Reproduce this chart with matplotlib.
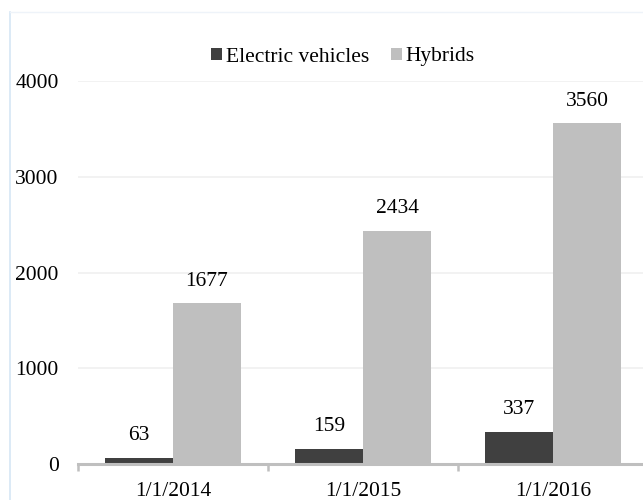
#!/usr/bin/env python3

import matplotlib
matplotlib.use('Agg')
import matplotlib.pyplot as plt
from matplotlib.lines import Line2D
import numpy as np

categories = ['1/1/2014', '1/1/2015', '1/1/2016']
electric = [63, 159, 337]
hybrids = [1677, 2434, 3560]
series_names = ['Electric vehicles', 'Hybrids']
yticks = [0, 1000, 2000, 3000, 4000]

DARK = '#404040'
LIGHT = '#bfbfbf'


def main():
    plt.rcParams['font.family'] = ['Liberation Serif', 'DejaVu Serif']
    plt.rcParams['font.size'] = 15.5

    fig = plt.figure(figsize=(6.43, 5.0), dpi=100)
    fig.patch.set_facecolor('white')

    # faint chart border (left and top edges visible)
    fig.add_artist(Line2D([10 / 643, 10 / 643], [0, 1 - 12 / 500],
                          transform=fig.transFigure, color='#d6e6f5', lw=1.2))
    fig.add_artist(Line2D([10 / 643, 1], [1 - 12 / 500, 1 - 12 / 500],
                          transform=fig.transFigure, color='#eef3f9', lw=1.0))

    ax = fig.add_axes([78 / 643, 36 / 500, 570 / 643, 383 / 500])
    x = np.arange(len(categories))
    w = 0.358
    b1 = ax.bar(x - w / 2, electric, w, color=DARK, label=series_names[0], zorder=3)
    b2 = ax.bar(x + w / 2, hybrids, w, color=LIGHT, label=series_names[1], zorder=3)

    for bars in (b1, b2):
        for rect in bars:
            h = rect.get_height()
            ax.annotate(f'{int(h)}', (rect.get_x() + rect.get_width() / 2, h),
                        xytext=(0, 9), textcoords='offset points',
                        ha='center', va='bottom')

    ax.set_xlim(-0.5, len(categories) - 0.5)
    ax.set_ylim(0, 4000)
    ax.set_yticks(yticks)
    ax.set_yticklabels([str(t) for t in yticks])
    ax.yaxis.grid(True, color='#f0f0f0', lw=1.2, zorder=0)
    ax.tick_params(axis='y', length=0, pad=14)

    ax.set_xticks(x)
    ax.set_xticklabels(categories)
    ax.set_xticks(np.arange(-0.5, len(categories), 1.0), minor=True)
    ax.tick_params(axis='x', which='major', length=0, pad=13)
    ax.tick_params(axis='x', which='minor', length=5, width=1.8,
                   color=LIGHT, direction='out')

    for s in ('top', 'right', 'left'):
        ax.spines[s].set_visible(False)
    ax.spines['bottom'].set_color(LIGHT)
    ax.spines['bottom'].set_linewidth(2.2)
    ax.spines['bottom'].set_zorder(4)

    fig.legend(handles=[b1, b2], loc='center', ncol=2,
               bbox_to_anchor=(343 / 643, 1 - 57 / 500), frameon=False,
               handlelength=0.5, handleheight=0.5,
               handletextpad=0.2, columnspacing=1.0)

    fig.savefig('out.png', dpi=100)


if __name__ == '__main__':
    main()
